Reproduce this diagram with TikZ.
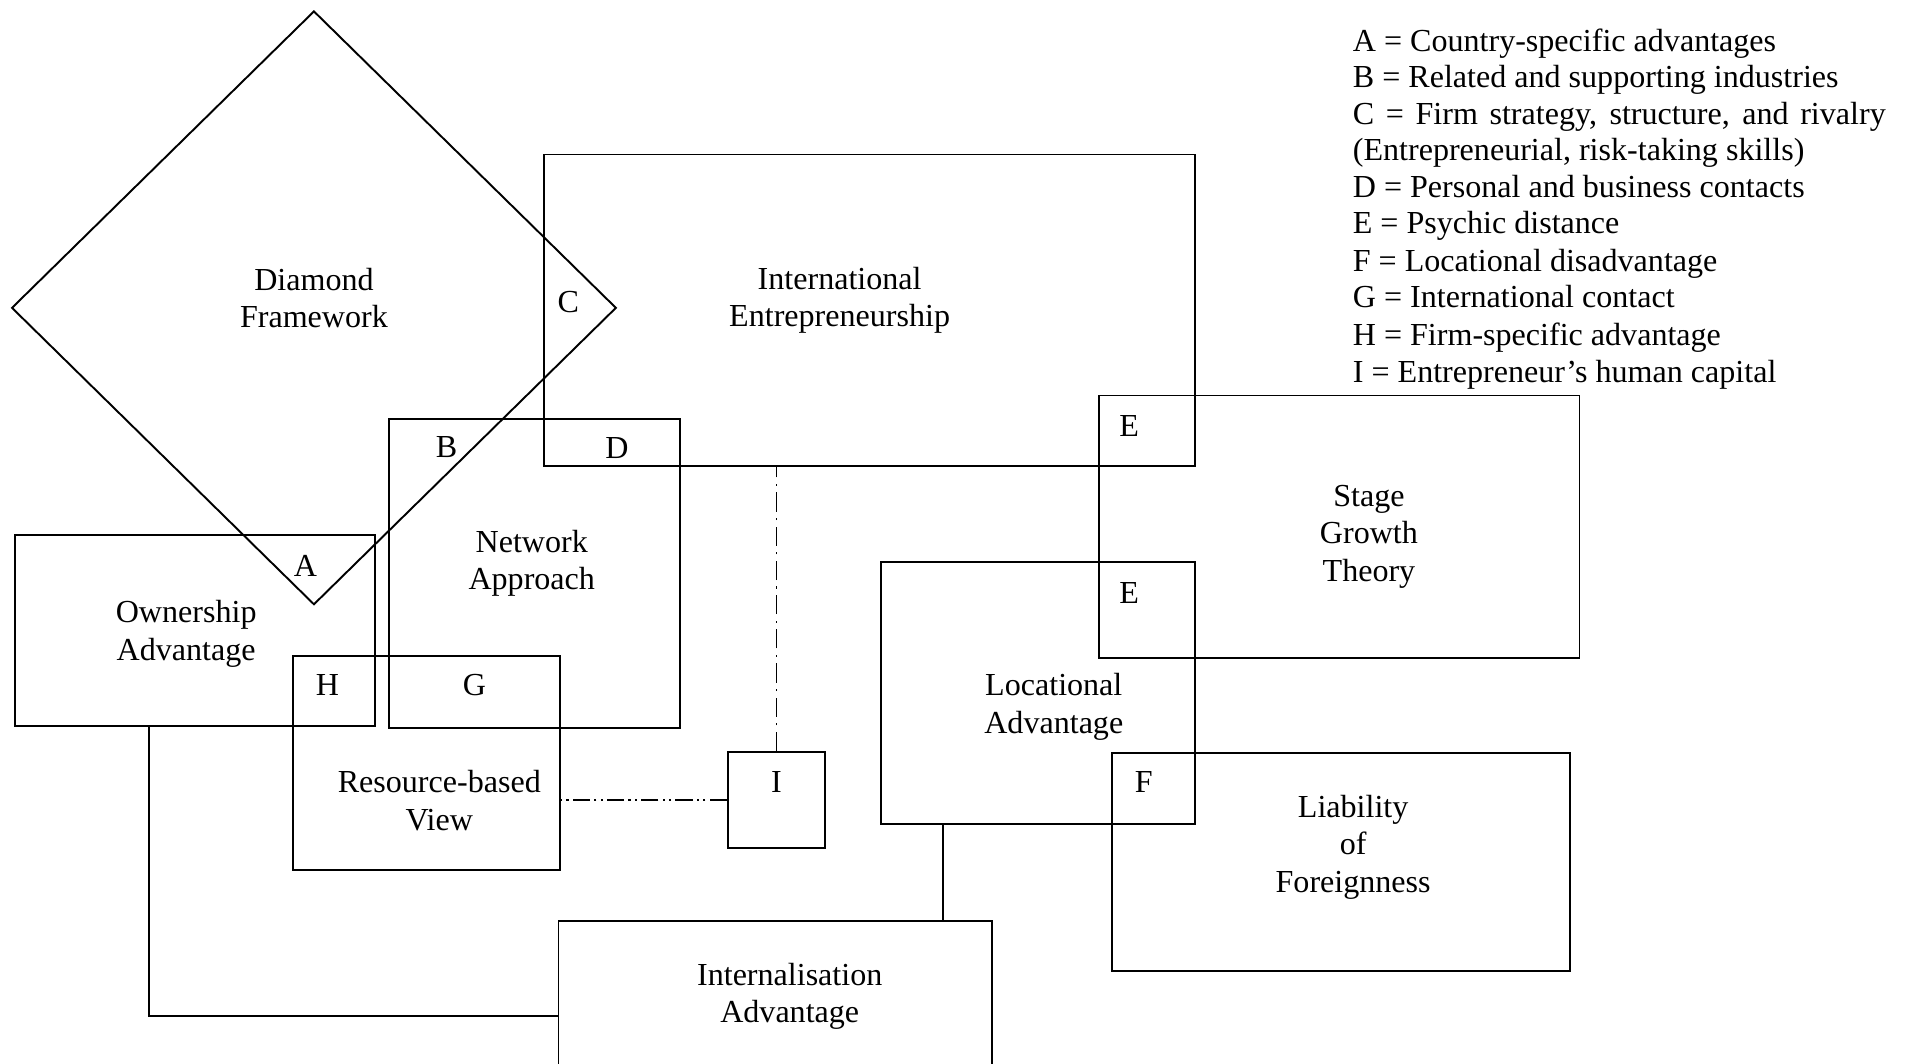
\documentclass[tikz,border=0pt]{standalone}
\usepackage{fontspec}
\setmainfont{Liberation Serif}
\usetikzlibrary{shapes.geometric,fit}

\begin{document}
\begin{tikzpicture}[x=0.02cm,y=-0.02cm,line width=0.9pt]
\tikzstyle{box}=[draw, inner sep=0pt]
\tikzstyle{txt}=[font=\fontsize{15}{17.5}\selectfont, align=center, inner sep=0pt]
\tikzstyle{letter}=[font=\fontsize{15}{17.5}\selectfont, inner sep=0pt]
\tikzstyle{legendline}=[font=\fontsize{15}{17.5}\selectfont, anchor=base west, inner sep=0pt]
\useasboundingbox (0,0) rectangle (1568,874);
\node [draw, diamond, inner sep=0pt, minimum width=9.94cm, minimum height=9.76cm] (df) at (258,253) {};
\node [box, fit={(447,127) (982,383)}] (ie) {};
\node [box, fit={(320,344) (559,598)}] (na) {};
\node [box, fit={(12,440) (308,597)}] (oa) {};
\node [box, fit={(241,539) (460,715)}] (rbv) {};
\node [box, fit={(598,618) (678,697)}] (hc) {};
\node [box, fit={(724,462) (982,677)}] (la) {};
\node [box, fit={(903,325) (1298,541)}] (sgt) {};
\node [box, fit={(914,619) (1290,798)}] (lof) {};
\node [box, fit={(459,757) (815,875)}] (ia) {};
\draw ([xshift=2.22cm]oa.south west) |- ([yshift=-0.38cm]ia.west);
\draw ([xshift=1.04cm]la.south west) -- ([xshift=1.04cm]la.south west |- ia.north);
\draw [line width=0.6pt, dash pattern=on 9pt off 3pt on 1pt off 3pt] (hc.north) -- (hc.north |- ie.south);
\draw [line width=0.9pt, dash pattern=on 8pt off 2pt on 1pt off 2pt on 1pt off 2pt] (hc.west) -- (hc.west -| rbv.east);
\node [txt] (dft) at (258,245) {Diamond\\Framework};
\node [txt] (iet) at (690,247) {International\\Entrepreneurship};
\node [txt] (nat) at (437,463) {Network\\Approach};
\node [txt] (oat) at (153,521) {Ownership\\Advantage};
\node [txt] (rbvt) at (361,658) {Resource-based\\View};
\node [txt] (sgtt) at (1125,441) {Stage\\Growth\\Theory};
\node [txt] (lat) at (866,581) {Locational\\Advantage};
\node [txt] (loft) at (1112,696) {Liability\\of\\Foreignness};
\node [txt] (iat) at (649,819) {Internalisation\\Advantage};
\node [letter] (a) at (251,465) {A};
\node [letter] (b) at (367,367) {B};
\node [letter] (c) at (467,248) {C};
\node [letter] (d) at (507,368) {D};
\node [letter] (e1) at (928,350) {E};
\node [letter] (e2) at (928,487) {E};
\node [letter] (f) at (940,643) {F};
\node [letter] (g) at (390,563) {G};
\node [letter] (h) at (269,563) {H};
\node [letter] (i) at (638,643) {I};
\node [legendline] (ka) at (1111,42) {A = Country-specific advantages};
\node [legendline] (kb) at (1111,72) {B = Related and supporting industries};
\node [legendline] (kc) at (1111,102) {\makebox[8.76cm][s]{C = Firm strategy, structure, and rivalry}};
\node [legendline] (kc2) at (1111,132) {(Entrepreneurial, risk-taking skills)};
\node [legendline] (kd) at (1111,162) {D = Personal and business contacts};
\node [legendline] (ke) at (1111,192) {E = Psychic distance};
\node [legendline] (kf) at (1111,223) {F = Locational disadvantage};
\node [legendline] (kg) at (1111,253) {G = International contact};
\node [legendline] (kh) at (1111,284) {H = Firm-specific advantage};
\node [legendline] (ki) at (1111,314) {I = Entrepreneur’s human capital};
\end{tikzpicture}
\end{document}
